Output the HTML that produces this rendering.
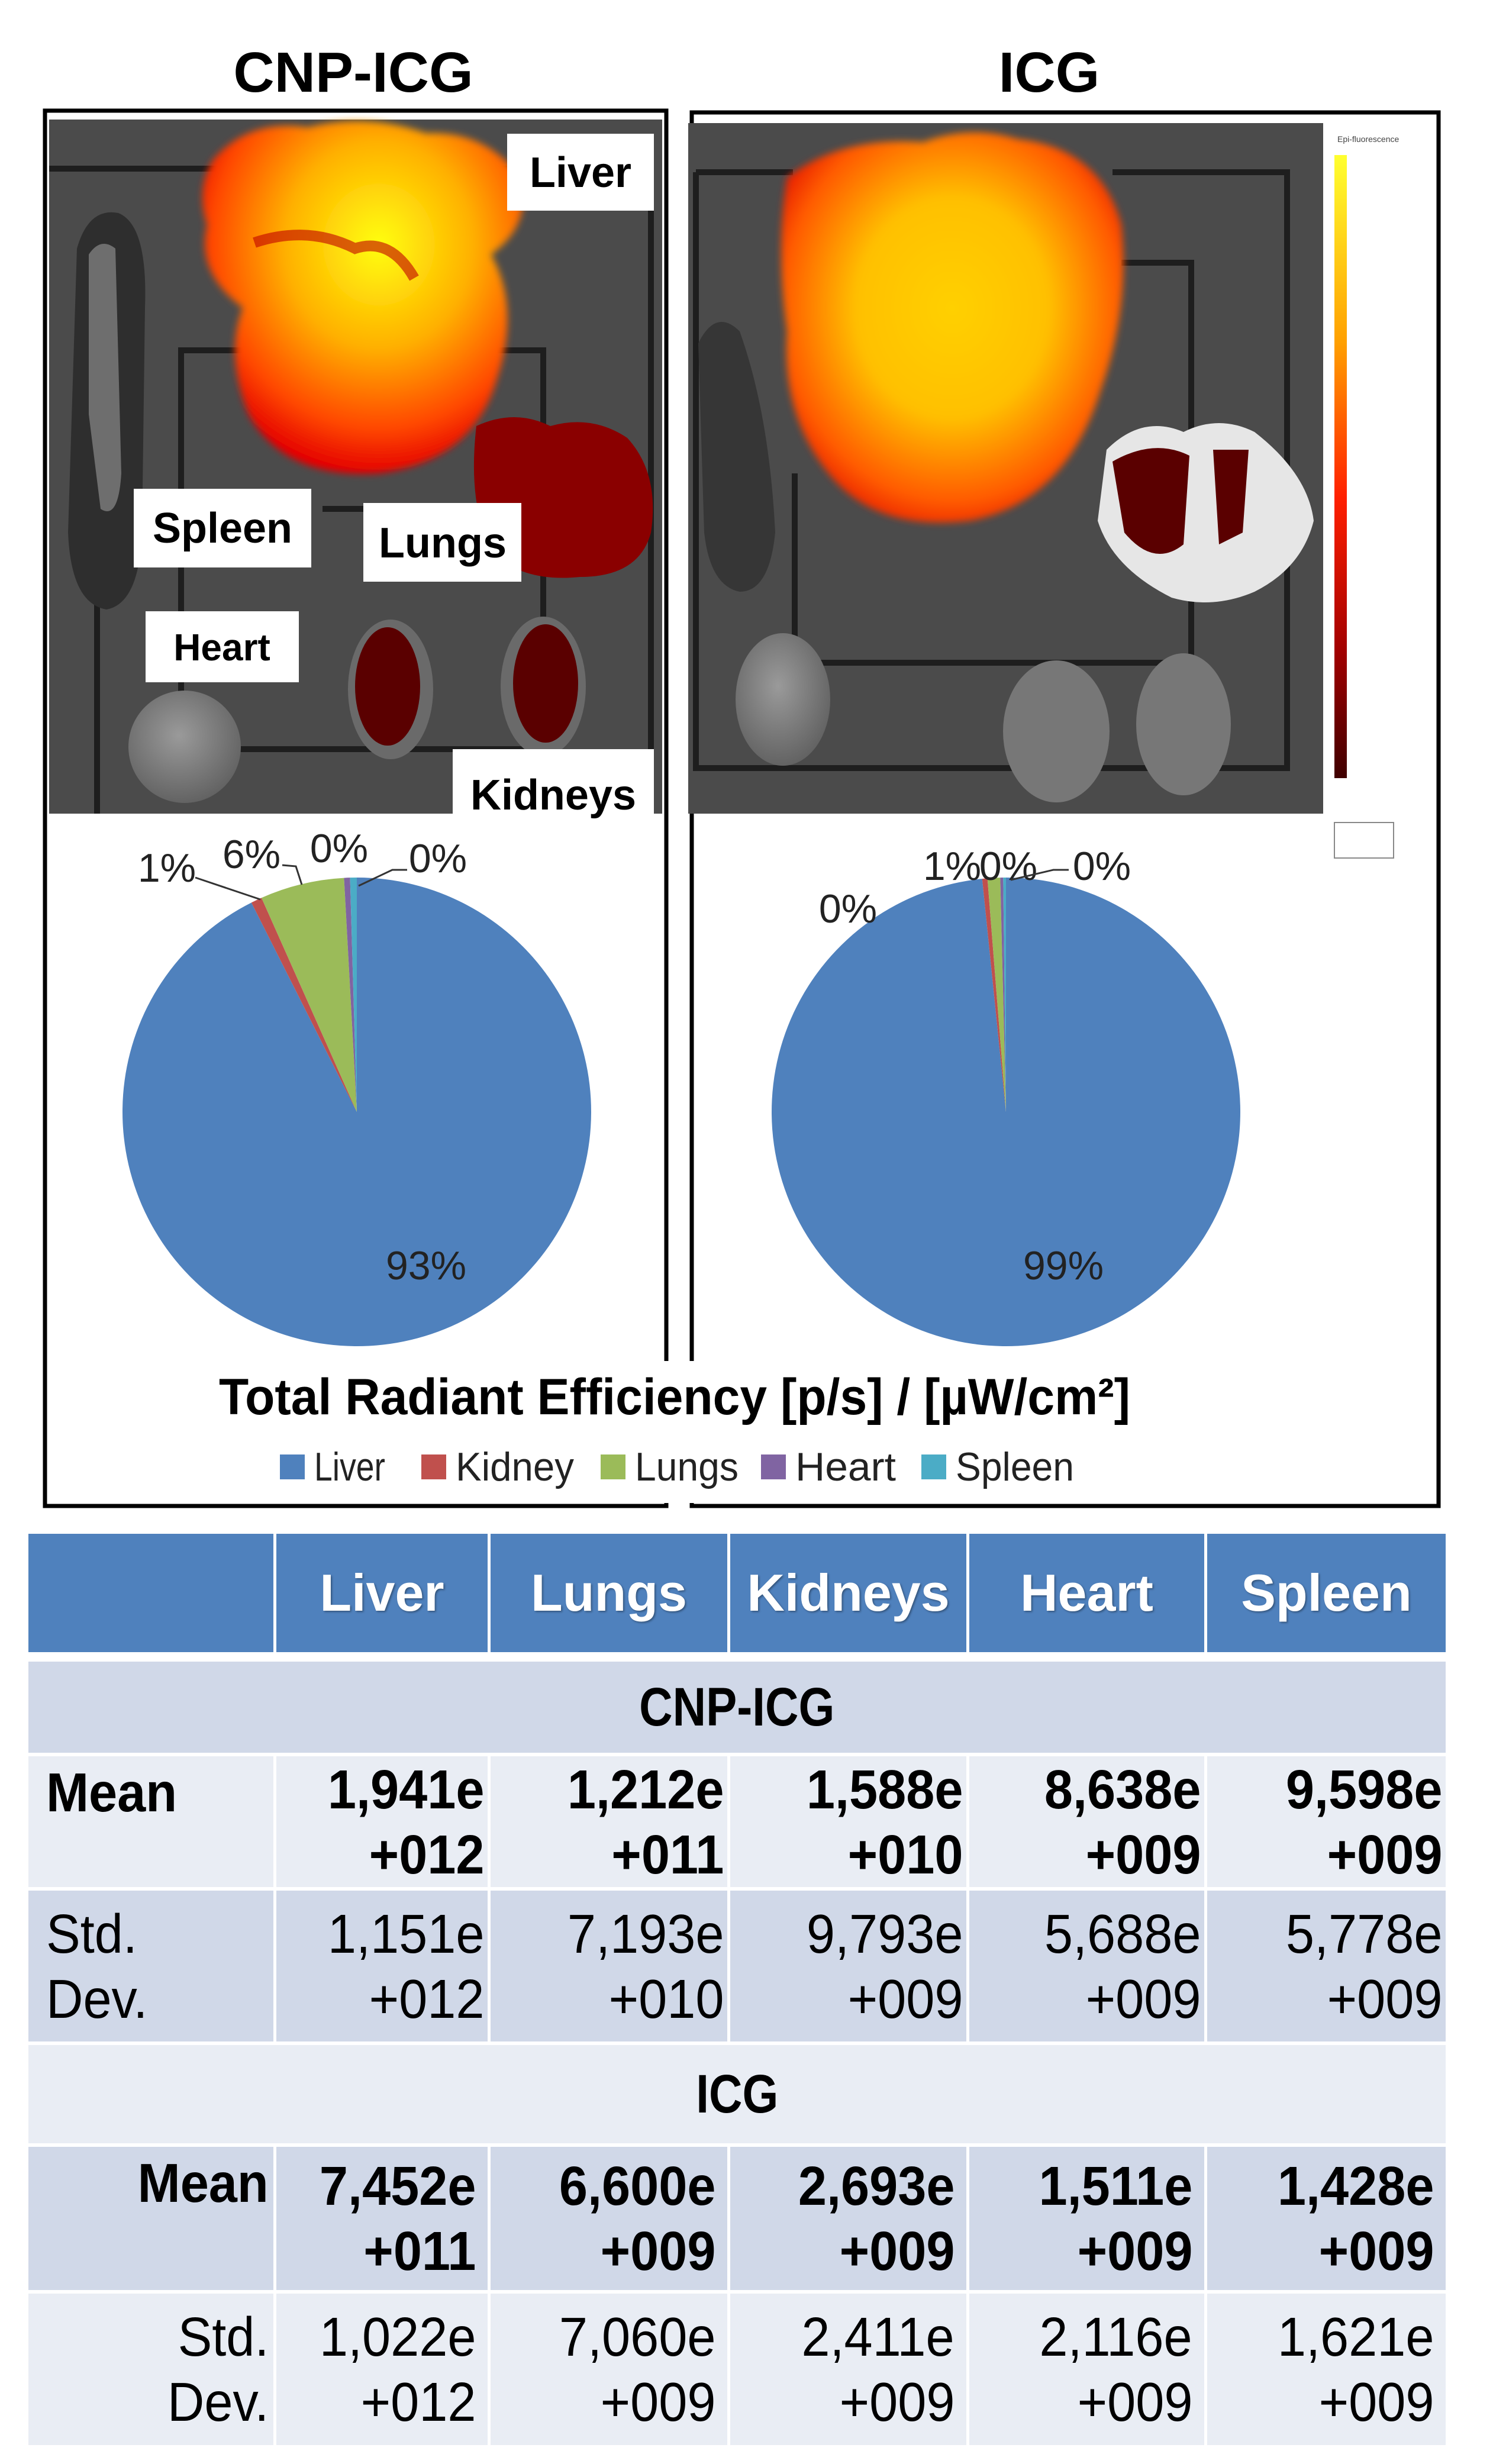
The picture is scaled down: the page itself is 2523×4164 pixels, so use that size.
<!DOCTYPE html>
<html><head><meta charset="utf-8">
<style>
html,body{margin:0;padding:0;background:#fff;}
body{width:2523px;height:4164px;position:relative;overflow:hidden;font-family:"Liberation Sans",sans-serif;}
.cell{position:absolute;box-sizing:border-box;display:flex;flex-direction:column;justify-content:center;}
.hd{background:#4F81BD;color:#fff;font-weight:bold;font-size:88px;align-items:center;text-shadow:2px 2px 3px rgba(0,0,0,0.35);}
.a{background:#D0D8E8;}
.b{background:#E9EDF4;}
.v{align-items:flex-end;padding-right:6px;font-size:93px;line-height:110px;color:#000;}
.v span{display:block;transform:scaleX(0.93);transform-origin:right center;white-space:nowrap;}
.bold{font-weight:bold;}
.sec{align-items:center;font-weight:bold;font-size:92px;}
.sec span{display:block;transform:scaleX(0.85);}
.lab{font-size:93px;line-height:110px;}
.lab span{display:block;transform:scaleX(0.93);white-space:nowrap;}
</style></head>
<body>
<svg id="top" width="2523" height="2590" style="position:absolute;left:0;top:0" xmlns="http://www.w3.org/2000/svg">
<defs>
 <radialGradient id="liverG1" cx="0.55" cy="0.35" r="0.65">
  <stop offset="0" stop-color="#ffff10"/><stop offset="0.45" stop-color="#ffb000"/><stop offset="0.8" stop-color="#ff4800"/><stop offset="1" stop-color="#e40000"/>
 </radialGradient>
 <radialGradient id="liverG2" cx="0.5" cy="0.45" r="0.62">
  <stop offset="0" stop-color="#ffd000"/><stop offset="0.45" stop-color="#ffc000"/><stop offset="0.8" stop-color="#ff5a00"/><stop offset="1" stop-color="#e00800"/>
 </radialGradient>
 <radialGradient id="greyOrg" cx="0.45" cy="0.4" r="0.7">
  <stop offset="0" stop-color="#9a9a9a"/><stop offset="1" stop-color="#5a5a5a"/>
 </radialGradient>
 <linearGradient id="cbar" x1="0" y1="0" x2="0" y2="1">
  <stop offset="0" stop-color="#ffff30"/><stop offset="0.3" stop-color="#ffa000"/><stop offset="0.55" stop-color="#ff2000"/><stop offset="0.8" stop-color="#a00000"/><stop offset="1" stop-color="#400000"/>
 </linearGradient>
 <filter id="soft"><feGaussianBlur stdDeviation="6"/></filter>
</defs>
<text x="597" y="155" text-anchor="middle" font-size="96" font-weight="bold" fill="#000">CNP-ICG</text>
<text x="1773" y="155" text-anchor="middle" font-size="96" font-weight="bold" fill="#000">ICG</text>
<rect x="76" y="187" width="1050" height="2358" fill="none" stroke="#000" stroke-width="7"/>
<rect x="1169" y="190" width="1262" height="2355" fill="none" stroke="#000" stroke-width="7"/>
<g>
 <rect x="83" y="202" width="1036" height="1173" fill="#4b4b4b"/>
 <g fill="none" stroke="#1e1e1e" stroke-width="10">
  <path d="M83 285 H1100 V1330"/>
  <path d="M164 987 V1375"/>
  <path d="M306 1266 V592 H420"/>
  <path d="M840 592 H918 V1266 H306"/>
  <path d="M545 860 H614"/>
 </g>
 <path d="M130 420 Q150 350 200 360 Q250 380 245 520 L240 900 Q235 1020 180 1030 Q120 1020 115 900 Z" fill="#2e2e2e"/>
 <path d="M150 430 Q170 400 195 420 L205 800 Q200 880 170 860 L150 700 Z" fill="#8a8a8a" opacity="0.7"/>
 <path d="M360 270 Q420 200 520 215 Q620 190 720 225 Q820 220 880 300 Q900 380 830 430 Q880 520 840 640 Q800 780 640 800 Q480 810 420 700 Q380 600 410 520 Q330 460 350 380 Q330 320 360 270 Z" fill="url(#liverG1)" filter="url(#soft)"/>
 <path d="M430 410 Q520 380 600 420 Q660 400 700 470" stroke="#c00000" stroke-width="18" fill="none" opacity="0.6"/>
 <path d="M805 720 Q870 690 930 720 Q1000 700 1060 740 Q1115 800 1100 900 Q1080 975 980 975 Q880 985 830 930 Q790 850 805 720 Z" fill="#8a0000"/>
 <ellipse cx="312" cy="1262" rx="95" ry="95" fill="url(#greyOrg)"/>
 <ellipse cx="660" cy="1165" rx="72" ry="118" fill="#6a6a6a"/>
 <ellipse cx="655" cy="1160" rx="55" ry="100" fill="#5a0000"/>
 <ellipse cx="918" cy="1160" rx="72" ry="118" fill="#6a6a6a"/>
 <ellipse cx="922" cy="1155" rx="55" ry="100" fill="#5a0000"/>
</g>
<g font-weight="bold" font-size="72" fill="#000">
 <rect x="857" y="226" width="248" height="130" fill="#fff"/><text x="981" y="316" text-anchor="middle">Liver</text>
 <rect x="226" y="826" width="300" height="133" fill="#fff"/><text x="376" y="917" text-anchor="middle">Spleen</text>
 <rect x="614" y="850" width="267" height="133" fill="#fff"/><text x="748" y="942" text-anchor="middle">Lungs</text>
 <rect x="246" y="1033" width="259" height="120" fill="#fff"/><text x="375" y="1116" text-anchor="middle" font-size="64">Heart</text>
 <rect x="765" y="1266" width="340" height="134" fill="#fff"/><text x="935" y="1368" text-anchor="middle">Kidneys</text>
</g>
<g>
 <rect x="1163" y="208" width="1073" height="1167" fill="#4b4b4b"/>
 <g fill="none" stroke="#1e1e1e" stroke-width="10">
  <path d="M1176 291 H1340"/><path d="M1880 291 H2175 V1298 H1176 V291"/>
  <path d="M1895 444 H2013 V1120 H1343 V800"/>
 </g>
 <path d="M1330 300 Q1420 230 1560 240 Q1640 210 1720 235 Q1860 250 1895 380 Q1910 520 1860 660 Q1800 850 1640 880 Q1480 900 1400 800 Q1320 700 1330 560 Q1310 420 1330 300 Z" fill="url(#liverG2)" filter="url(#soft)"/>
 <path d="M1180 580 Q1210 520 1250 560 Q1300 700 1310 900 Q1300 1000 1250 1000 Q1200 990 1190 900 Z" fill="#363636"/>
 <path d="M1870 760 Q1930 700 2000 730 Q2060 700 2120 730 Q2210 800 2220 880 Q2200 960 2120 1000 Q2050 1030 1980 1010 Q1880 960 1855 880 Z" fill="#e6e6e6"/>
 <path d="M1880 780 Q1950 740 2010 770 L2000 920 Q1950 960 1900 900 Z" fill="#5a0000"/>
 <path d="M2050 760 L2110 760 L2100 900 L2060 920 Z" fill="#5a0000"/>
 <ellipse cx="1323" cy="1182" rx="80" ry="112" fill="url(#greyOrg)"/>
 <ellipse cx="1785" cy="1236" rx="90" ry="120" fill="#777"/>
 <ellipse cx="2000" cy="1224" rx="80" ry="120" fill="#777"/>
 <rect x="2236" y="208" width="158" height="1167" fill="#fff"/>
 <rect x="2255" y="262" width="21" height="1053" fill="url(#cbar)"/>
 <text x="2260" y="240" font-size="14" fill="#444">Epi-fluorescence</text>
 <rect x="2255" y="1390" width="100" height="60" fill="none" stroke="#888" stroke-width="2"/>
</g>
<g id="pieCNP"></g>
<g id="pieICG"></g>
<g id="pieLabels" font-size="68" fill="#222"></g>
<rect x="1120" y="2300" width="56" height="240" fill="#fff"/>
<text x="1140" y="2390" text-anchor="middle" font-size="86" font-weight="bold" fill="#000" textLength="1540" lengthAdjust="spacingAndGlyphs">Total Radiant Efficiency [p/s] / [µW/cm²]</text>
<g id="legend" font-size="68" fill="#222"></g>
</svg>

<div id="tbl"></div>

<script>
const organs = ["Liver","Kidney","Lungs","Heart","Spleen"];
const colors = ["#4F81BD","#C0504D","#9BBB59","#8064A2","#4BACC6"];
const cnpValues = [92.6, 0.76, 5.8, 0.41, 0.46];
const icgValues = [98.3, 0.36, 0.87, 0.2, 0.19];
const cnpLabels = ["93%","1%","6%","0%","0%"];
const icgLabels = ["99%","0%","1%","0%","0%"];

const NS="http://www.w3.org/2000/svg";
function pie(gid, cx, cy, r, vals){
  const g=document.getElementById(gid);
  const tot=vals.reduce((a,b)=>a+b,0);
  let a0=-Math.PI/2;
  vals.forEach((v,i)=>{
    const a1=a0+v/tot*2*Math.PI;
    const x0=cx+r*Math.cos(a0),y0=cy+r*Math.sin(a0),x1=cx+r*Math.cos(a1),y1=cy+r*Math.sin(a1);
    const p=document.createElementNS(NS,"path");
    p.setAttribute("d",`M${cx},${cy} L${x0},${y0} A${r},${r} 0 ${(a1-a0)>Math.PI?1:0} 1 ${x1},${y1} Z`);
    p.setAttribute("fill",colors[i]);
    
    
    g.appendChild(p);
    a0=a1;
  });
}
pie("pieCNP",603,1879,396,cnpValues);
pie("pieICG",1700,1879,396,icgValues);

function txt(parent,x,y,s,name,anchor){
  const t=document.createElementNS(NS,"text");
  t.setAttribute("x",x);t.setAttribute("y",y);
  if(anchor)t.setAttribute("text-anchor",anchor);
  t.textContent=s;
  
  
  parent.appendChild(t);
  return t;
}
const pl=document.getElementById("pieLabels");
txt(pl,720,2162,cnpLabels[0],"cnp-liver-pct","middle");
txt(pl,282,1490,cnpLabels[1],"cnp-kidney-pct","middle");
txt(pl,425,1467,cnpLabels[2],"cnp-lungs-pct","middle");
txt(pl,573,1457,cnpLabels[3],"cnp-heart-pct","middle");
txt(pl,740,1474,cnpLabels[4],"cnp-spleen-pct","middle");
txt(pl,1797,2162,icgLabels[0],"icg-liver-pct","middle");
txt(pl,1433,1559,icgLabels[1],"icg-kidney-pct","middle");
txt(pl,1609,1487,icgLabels[2],"icg-lungs-pct","middle");
txt(pl,1704,1487,icgLabels[3],"icg-heart-pct","middle");
txt(pl,1862,1487,icgLabels[4],"icg-spleen-pct","middle");
[["M330 1483 L440 1520","cnp-kidney-leader"],["M477 1462 L500 1464 L510 1495","cnp-lungs-leader"],["M688 1470 L663 1470 L606 1497","cnp-spleen-leader"],["M1806 1470 L1780 1470 L1708 1487","icg-spleen-leader"]].forEach(d=>{
  const p=document.createElementNS(NS,"path");
  p.setAttribute("d",d[0]);p.setAttribute("stroke","#333");p.setAttribute("stroke-width","3");p.setAttribute("fill","none");
  
  
  pl.appendChild(p);
});
const lg=document.getElementById("legend");
const legX=[473,712,1015,1286,1557];
const legW=[120,200,175,170,200];
organs.forEach((o,i)=>{
  const r=document.createElementNS(NS,"rect");
  r.setAttribute("x",legX[i]);r.setAttribute("y",2458);r.setAttribute("width",42);r.setAttribute("height",42);r.setAttribute("fill",colors[i]);
  
  
  lg.appendChild(r);
  const t=txt(lg,legX[i]+58,2502,o,'legend-entry-'+o.toLowerCase());
  t.setAttribute("textLength",legW[i]);t.setAttribute("lengthAdjust","spacingAndGlyphs");
});

const cols=[48,467,829,1234,1638,2040,2443];
const headers=["Liver","Lungs","Kidneys","Heart","Spleen"];
const cnpMean=[["1,941e","+012"],["1,212e","+011"],["1,588e","+010"],["8,638e","+009"],["9,598e","+009"]];
const cnpStd=[["1,151e","+012"],["7,193e","+010"],["9,793e","+009"],["5,688e","+009"],["5,778e","+009"]];
const icgMean=[["7,452e","+011"],["6,600e","+009"],["2,693e","+009"],["1,511e","+009"],["1,428e","+009"]];
const icgStd=[["1,022e","+012"],["7,060e","+009"],["2,411e","+009"],["2,116e","+009"],["1,621e","+009"]];
const tbl=document.getElementById("tbl");
function cell(x1,x2,y1,y2,cls,html,name){
  const d=document.createElement("div");
  d.className="cell "+cls;
  d.style.left=x1+"px";d.style.top=y1+"px";d.style.width=(x2-x1)+"px";d.style.height=(y2-y1)+"px";
  d.innerHTML=html;
  
  
  tbl.appendChild(d);
  return d;
}
cell(cols[0],cols[1]-5,2592,2792,"hd","","header-corner");
headers.forEach((h,i)=>cell(cols[i+1],cols[i+2]-(i==4?0:5),2592,2792,"hd",h,"header-"+h.toLowerCase()));
const rows=[
 {y1:2808,y2:2962,type:"sec",text:"CNP-ICG",cls:"a"},
 {y1:2968,y2:3189,type:"data",label:["Mean"],vals:cnpMean,cls:"b",bold:true,align:"left",name:"cnp-mean"},
 {y1:3195,y2:3450,type:"data",label:["Std.","Dev."],vals:cnpStd,cls:"a",bold:false,align:"left",name:"cnp-std"},
 {y1:3456,y2:3622,type:"sec",text:"ICG",cls:"b"},
 {y1:3628,y2:3870,type:"data",label:["Mean"],vals:icgMean,cls:"a",bold:true,align:"right",name:"icg-mean"},
 {y1:3876,y2:4132,type:"data",label:["Std.","Dev."],vals:icgStd,cls:"b",bold:false,align:"right",name:"icg-std"}
];
rows.forEach(r=>{
  if(r.type==="sec"){
    cell(cols[0],cols[6],r.y1,r.y2,r.cls+" sec","<span>"+r.text+"</span>","section-"+r.text.toLowerCase());
  } else {
    const lc=cell(cols[0],cols[1]-5,r.y1,r.y2,r.cls+" lab"+(r.bold?" bold":""),r.label.map(s=>"<span>"+s+"</span>").join(""),r.name+"-label");
    if(r.align==="left"){lc.style.alignItems="flex-start";lc.style.paddingLeft="30px";lc.querySelectorAll("span").forEach(s=>s.style.transformOrigin="left center");}
    else {lc.style.alignItems="flex-end";lc.style.paddingRight="8px";lc.querySelectorAll("span").forEach(s=>s.style.transformOrigin="right center");}
    if(r.bold){lc.style.justifyContent="flex-start";lc.style.paddingTop="6px";}
    r.vals.forEach((v,i)=>{
      const c=cell(cols[i+1],cols[i+2]-(i==4?0:5),r.y1,r.y2,r.cls+" v"+(r.bold?" bold":""),"<span>"+v[0]+"</span><span>"+v[1]+"</span>",r.name+"-"+headers[i].toLowerCase());
      if(r.align==="right")c.style.paddingRight="20px";
    });
  }
});
</script>
</body></html>
